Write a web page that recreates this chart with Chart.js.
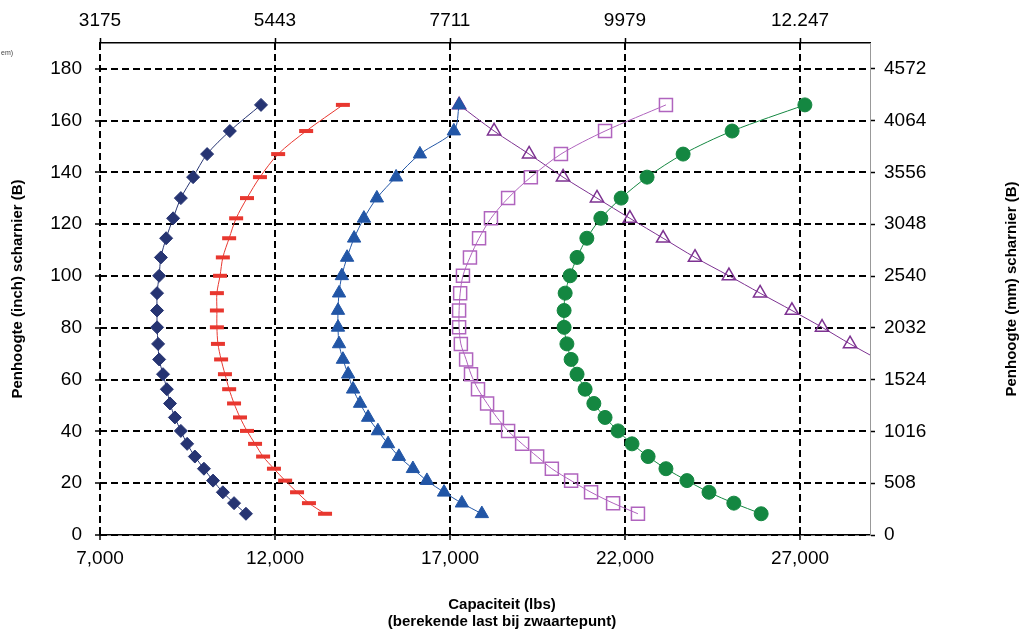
<!DOCTYPE html>
<html>
<head>
<meta charset="utf-8">
<script src="https://cdn.jsdelivr.net/npm/chart.js@4"></script>
<style>
  body { margin: 0; background: #fff; }
  canvas { display: block; }
</style>
</head>
<body>
<canvas id="capChart" width="1024" height="635"></canvas>
<script>
// penhoogte (inch) per meetpunt, gedeeld door alle series
const heightsInch = [166.1, 156.0, 147.1, 138.2, 130.1, 122.3, 114.6, 107.2, 100.1, 93.4, 86.7, 80.2, 73.8,
                     67.8, 62.1, 56.3, 50.8, 45.4, 40.2, 35.2, 30.3, 25.6, 21.0, 16.5, 12.3, 8.2];

// capaciteit (lbs) per serie
const capDiamond = [11600, 10710, 10060, 9660, 9310, 9090, 8890, 8740, 8690, 8630, 8630, 8630, 8660,
                    8690, 8800, 8910, 9000, 9140, 9310, 9490, 9710, 9970, 10230, 10510, 10830, 11170];
const capDash = [13940, 12890, 12090, 11570, 11200, 10890, 10690, 10510, 10430, 10340, 10340, 10340, 10370,
                 10460, 10570, 10690, 10830, 11000, 11200, 11430, 11660, 11970, 12290, 12630, 12970, 13430];
const capTriangle = [17260, 17110, 16140, 15460, 14910, 14540, 14260, 14060, 13910, 13830, 13800, 13800, 13830,
                     13940, 14090, 14230, 14430, 14660, 14940, 15230, 15540, 15940, 16340, 16830, 17340, 17910];
const capSquare = [23170, 21430, 20170, 19310, 18660, 18170, 17830, 17570, 17370, 17290, 17260, 17260, 17310,
                   17460, 17600, 17800, 18060, 18340, 18660, 19060, 19490, 19910, 20460, 21030, 21660, 22370];
const capCircle = [27140, 25060, 23660, 22630, 21890, 21310, 20910, 20630, 20430, 20290, 20260, 20260, 20340,
                   20460, 20630, 20860, 21110, 21430, 21800, 22200, 22660, 23170, 23770, 24400, 25110, 25890];
const capOpenTriangle = [17260, 18260, 19260, 20230, 21200, 22140, 23090, 24000, 24970, 25860, 26770, 27630,
                         28430, 29230];

// tick labels
const xTicks = [7000, 12000, 17000, 22000, 27000];
const xTopLabels = ["3175", "5443", "7711", "9979", "12.247"];
const yTicks = [0, 20, 40, 60, 80, 100, 120, 140, 160, 180];
const yRightLabels = ["0", "508", "1016", "1524", "2032", "2540", "3048", "3556", "4064", "4572"];

const FONT = "'Liberation Sans', Arial, sans-serif";

function points(caps) {
    return caps.map((c, i) => ({ x: c, y: heightsInch[i] }));
}

function series(caps, color, style, radius, filled, extra) {
    return Object.assign({
        data: points(caps),
        borderColor: color,
        borderWidth: 1,
        tension: 0.3,
        pointStyle: style,
        pointRadius: radius,
        pointBackgroundColor: filled ? color : "rgba(0,0,0,0)",
        pointBorderColor: color,
        pointBorderWidth: filled ? 1 : 1.5,
        fill: false
    }, extra || {});
}

const fixTicks = values => scale => { scale.ticks = values.map(v => ({ value: v })); };

// titels en losse tekst
const textPlugin = {
    id: "texts",
    afterDraw(chart) {
        const ctx = chart.ctx;
        ctx.save();
        ctx.fillStyle = "#000";
        ctx.font = "bold 15px " + FONT;
        ctx.textAlign = "center";
        ctx.textBaseline = "middle";
        ctx.fillText("Capaciteit (lbs)", 502, 605);
        ctx.fillText("(berekende last bij zwaartepunt)", 502, 622);

        ctx.save();
        ctx.translate(18, 289);
        ctx.rotate(-Math.PI / 2);
        ctx.fillText("Penhoogte (inch) scharnier (B)", 0, 0);
        ctx.restore();

        ctx.save();
        ctx.translate(1012, 289);
        ctx.rotate(-Math.PI / 2);
        ctx.fillText("Penhoogte (mm) scharnier (B)", 0, 0);
        ctx.restore();

        ctx.font = "7px " + FONT;
        ctx.fillStyle = "#444";
        ctx.textAlign = "left";
        ctx.fillText("em)", 1, 53);
        ctx.restore();
    }
};

new Chart(document.getElementById("capChart"), {
    type: "line",
    data: {
        datasets: [
            series(capDiamond, "#263472", "rectRot", 6.5, true),
            series(capDash, "#e8372f", "line", 7, true, { pointBorderWidth: 4 }),
            series(capTriangle, "#2256a6", "triangle", 7.7, true),
            series(capSquare, "#b064be", "rect", 9.2, false),
            series(capCircle, "#148741", "circle", 7, true),
            series(capOpenTriangle, "#7d3291", "triangle", 7.7, false, { clip: 0 })
        ]
    },
    plugins: [textPlugin],
    options: {
        responsive: false,
        animation: false,
        layout: { padding: 0 },
        plugins: {
            legend: { display: false },
            tooltip: { enabled: false }
        },
        scales: {
            x: {
                type: "linear",
                position: "bottom",
                min: 7000,
                max: 29000,
                afterBuildTicks: fixTicks(xTicks),
                afterFit: s => { s.height = 100; },
                ticks: {
                    color: "#000",
                    font: { family: FONT, size: 19 },
                    padding: 7,
                    maxRotation: 0,
                    callback: v => v.toLocaleString("en-US")
                },
                grid: { color: "#000", lineWidth: 2, tickLength: 5, tickWidth: 1.5 },
                border: { display: true, color: "#000", width: 1.5, dash: [7, 4] }
            },
            x2: {
                type: "linear",
                position: "top",
                min: 7000,
                max: 29000,
                afterBuildTicks: fixTicks(xTicks),
                afterFit: s => { s.height = 43; },
                ticks: {
                    color: "#000",
                    font: { family: FONT, size: 19 },
                    padding: 6,
                    maxRotation: 0,
                    callback: (v, i) => xTopLabels[i]
                },
                grid: { drawOnChartArea: false, color: "#000", tickLength: 5, tickWidth: 1.5 },
                border: { display: true, color: "#000", width: 1.5 }
            },
            y: {
                type: "linear",
                position: "left",
                min: 0,
                max: 190,
                afterBuildTicks: fixTicks(yTicks),
                afterFit: s => { s.width = 100; },
                ticks: {
                    color: "#000",
                    font: { family: FONT, size: 19 },
                    padding: 13
                },
                grid: { color: "#000", lineWidth: 2, tickLength: 5, tickWidth: 1.5 },
                border: { display: false, dash: [7, 4] }
            },
            y2: {
                type: "linear",
                position: "right",
                min: 0,
                max: 190,
                afterBuildTicks: fixTicks(yTicks),
                afterFit: s => { s.width = 154; },
                ticks: {
                    color: "#000",
                    font: { family: FONT, size: 19 },
                    padding: 9,
                    callback: (v, i) => yRightLabels[i]
                },
                grid: { drawOnChartArea: false, color: "#000", tickLength: 5, tickWidth: 1.5 },
                border: { display: true, color: "#999", width: 1 }
            }
        }
    }
});
</script>
</body>
</html>
